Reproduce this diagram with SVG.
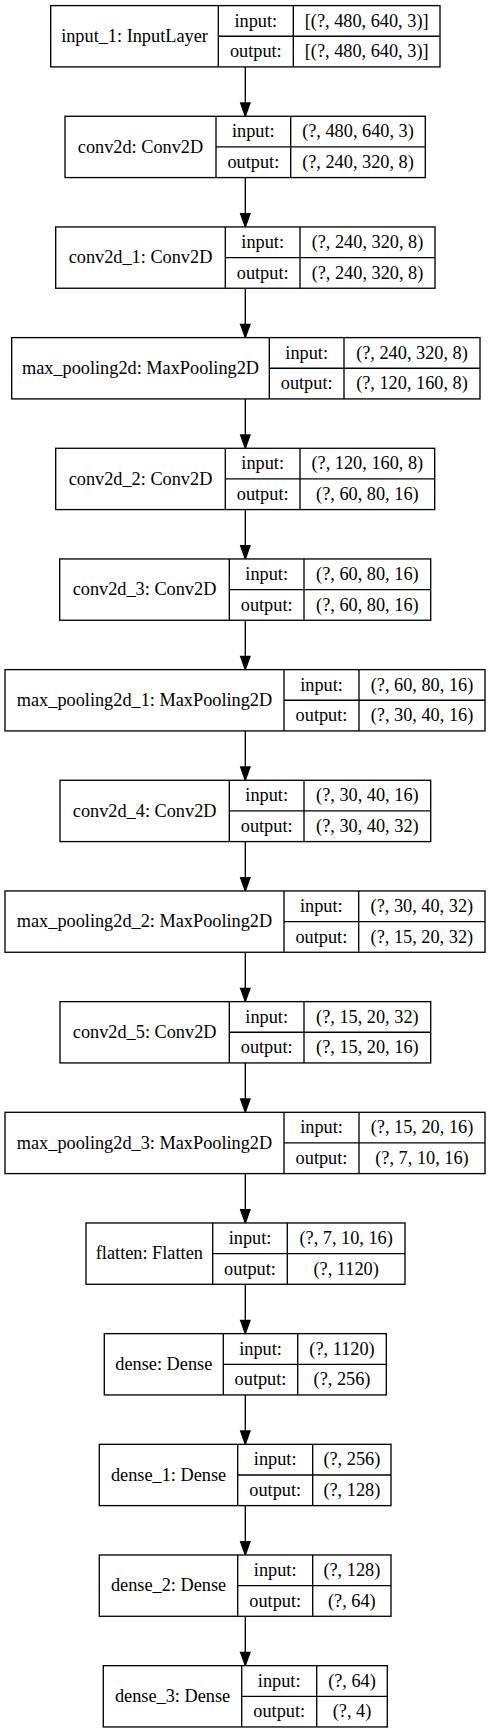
<svg xmlns="http://www.w3.org/2000/svg" width="491" height="1733" viewBox="0 0 491 1733">
<style>
  .bx { fill: #ffffff; stroke: #000000; stroke-width: 1.33; }
  .dv { stroke: #000000; stroke-width: 1.33; fill: none; }
  text { font-family: "Liberation Serif", "Times New Roman", serif; font-size: 18.3px; fill: #000000; text-anchor: middle; }
  .edge { stroke: #000000; stroke-width: 1.33; fill: none; }
  .head { fill: #000000; stroke: #000000; stroke-width: 1.33; }
</style>
<rect x="0" y="0" width="491" height="1733" fill="#ffffff"/>

<g id="connectors">
  <line class="edge" x1="245.3" y1="66.9" x2="245.3" y2="103"/><polygon class="head" points="240.6,103 250,103 245.3,116.3"/>
  <line class="edge" x1="245.3" y1="177.6" x2="245.3" y2="213.6"/><polygon class="head" points="240.6,213.6 250,213.6 245.3,226.9"/>
  <line class="edge" x1="245.3" y1="288.2" x2="245.3" y2="324.3"/><polygon class="head" points="240.6,324.3 250,324.3 245.3,337.6"/>
  <line class="edge" x1="245.3" y1="398.9" x2="245.3" y2="435"/><polygon class="head" points="240.6,435 250,435 245.3,448.3"/>
  <line class="edge" x1="245.3" y1="509.6" x2="245.3" y2="545.6"/><polygon class="head" points="240.6,545.6 250,545.6 245.3,558.9"/>
  <line class="edge" x1="245.3" y1="620.3" x2="245.3" y2="656.3"/><polygon class="head" points="240.6,656.3 250,656.3 245.3,669.6"/>
  <line class="edge" x1="245.3" y1="730.9" x2="245.3" y2="767"/><polygon class="head" points="240.6,767 250,767 245.3,780.3"/>
  <line class="edge" x1="245.3" y1="841.6" x2="245.3" y2="877.7"/><polygon class="head" points="240.6,877.7 250,877.7 245.3,891"/>
  <line class="edge" x1="245.3" y1="952.3" x2="245.3" y2="988.3"/><polygon class="head" points="240.6,988.3 250,988.3 245.3,1001.6"/>
  <line class="edge" x1="245.3" y1="1062.9" x2="245.3" y2="1099"/><polygon class="head" points="240.6,1099 250,1099 245.3,1112.3"/>
  <line class="edge" x1="245.3" y1="1173.6" x2="245.3" y2="1209.7"/><polygon class="head" points="240.6,1209.7 250,1209.7 245.3,1223"/>
  <line class="edge" x1="245.3" y1="1284.3" x2="245.3" y2="1320.3"/><polygon class="head" points="240.6,1320.3 250,1320.3 245.3,1333.6"/>
  <line class="edge" x1="245.3" y1="1394.9" x2="245.3" y2="1431"/><polygon class="head" points="240.6,1431 250,1431 245.3,1444.3"/>
  <line class="edge" x1="245.3" y1="1505.6" x2="245.3" y2="1541.7"/><polygon class="head" points="240.6,1541.7 250,1541.7 245.3,1555"/>
  <line class="edge" x1="245.3" y1="1616.3" x2="245.3" y2="1652.3"/><polygon class="head" points="240.6,1652.3 250,1652.3 245.3,1665.6"/>
</g>

<g id="input_1" transform="translate(0,5.6)">
  <rect class="bx" x="50.7" y="0" width="389.3" height="61.3"/>
  <line class="dv" x1="218.3" y1="0" x2="218.3" y2="61.3"/><line class="dv" x1="293.3" y1="0" x2="293.3" y2="61.3"/><line class="dv" x1="218.3" y1="30.65" x2="440" y2="30.65"/>
  <text x="134.5" y="36.4">input_1: InputLayer</text>
  <text x="255.8" y="21">input:</text><text x="255.8" y="51.7">output:</text>
  <text x="366.65" y="21">[(?, 480, 640, 3)]</text><text x="366.65" y="51.7">[(?, 480, 640, 3)]</text>
</g>

<g id="conv2d" transform="translate(0,116.27)">
  <rect class="bx" x="65" y="0" width="360.3" height="61.3"/>
  <line class="dv" x1="216" y1="0" x2="216" y2="61.3"/><line class="dv" x1="290.7" y1="0" x2="290.7" y2="61.3"/><line class="dv" x1="216" y1="30.65" x2="425.3" y2="30.65"/>
  <text x="140.5" y="36.4">conv2d: Conv2D</text>
  <text x="253.35" y="21">input:</text><text x="253.35" y="51.7">output:</text>
  <text x="358" y="21">(?, 480, 640, 3)</text><text x="358" y="51.7">(?, 240, 320, 8)</text>
</g>

<g id="conv2d_1" transform="translate(0,226.94)">
  <rect class="bx" x="55.7" y="0" width="379.3" height="61.3"/>
  <line class="dv" x1="225.3" y1="0" x2="225.3" y2="61.3"/><line class="dv" x1="300" y1="0" x2="300" y2="61.3"/><line class="dv" x1="225.3" y1="30.65" x2="435" y2="30.65"/>
  <text x="140.5" y="36.4">conv2d_1: Conv2D</text>
  <text x="262.65" y="21">input:</text><text x="262.65" y="51.7">output:</text>
  <text x="367.5" y="21">(?, 240, 320, 8)</text><text x="367.5" y="51.7">(?, 240, 320, 8)</text>
</g>

<g id="max_pooling2d" transform="translate(0,337.61)">
  <rect class="bx" x="11.7" y="0" width="468.3" height="61.3"/>
  <line class="dv" x1="269.3" y1="0" x2="269.3" y2="61.3"/><line class="dv" x1="344" y1="0" x2="344" y2="61.3"/><line class="dv" x1="269.3" y1="30.65" x2="480" y2="30.65"/>
  <text x="140.5" y="36.4">max_pooling2d: MaxPooling2D</text>
  <text x="306.65" y="21">input:</text><text x="306.65" y="51.7">output:</text>
  <text x="412" y="21">(?, 240, 320, 8)</text><text x="412" y="51.7">(?, 120, 160, 8)</text>
</g>

<g id="conv2d_2" transform="translate(0,448.28)">
  <rect class="bx" x="55.7" y="0" width="379" height="61.3"/>
  <line class="dv" x1="225.3" y1="0" x2="225.3" y2="61.3"/><line class="dv" x1="300" y1="0" x2="300" y2="61.3"/><line class="dv" x1="225.3" y1="30.65" x2="434.7" y2="30.65"/>
  <text x="140.5" y="36.4">conv2d_2: Conv2D</text>
  <text x="262.65" y="21">input:</text><text x="262.65" y="51.7">output:</text>
  <text x="367.35" y="21">(?, 120, 160, 8)</text><text x="367.35" y="51.7">(?, 60, 80, 16)</text>
</g>

<g id="conv2d_3" transform="translate(0,558.95)">
  <rect class="bx" x="59.7" y="0" width="371" height="61.3"/>
  <line class="dv" x1="229.3" y1="0" x2="229.3" y2="61.3"/><line class="dv" x1="304" y1="0" x2="304" y2="61.3"/><line class="dv" x1="229.3" y1="30.65" x2="430.7" y2="30.65"/>
  <text x="144.5" y="36.4">conv2d_3: Conv2D</text>
  <text x="266.65" y="21">input:</text><text x="266.65" y="51.7">output:</text>
  <text x="367.35" y="21">(?, 60, 80, 16)</text><text x="367.35" y="51.7">(?, 60, 80, 16)</text>
</g>

<g id="max_pooling2d_1" transform="translate(0,669.62)">
  <rect class="bx" x="5" y="0" width="480" height="61.3"/>
  <line class="dv" x1="284" y1="0" x2="284" y2="61.3"/><line class="dv" x1="359" y1="0" x2="359" y2="61.3"/><line class="dv" x1="284" y1="30.65" x2="485" y2="30.65"/>
  <text x="144.5" y="36.4">max_pooling2d_1: MaxPooling2D</text>
  <text x="321.5" y="21">input:</text><text x="321.5" y="51.7">output:</text>
  <text x="422" y="21">(?, 60, 80, 16)</text><text x="422" y="51.7">(?, 30, 40, 16)</text>
</g>

<g id="conv2d_4" transform="translate(0,780.29)">
  <rect class="bx" x="60" y="0" width="370.7" height="61.3"/>
  <line class="dv" x1="229.3" y1="0" x2="229.3" y2="61.3"/><line class="dv" x1="304" y1="0" x2="304" y2="61.3"/><line class="dv" x1="229.3" y1="30.65" x2="430.7" y2="30.65"/>
  <text x="144.65" y="36.4">conv2d_4: Conv2D</text>
  <text x="266.65" y="21">input:</text><text x="266.65" y="51.7">output:</text>
  <text x="367.35" y="21">(?, 30, 40, 16)</text><text x="367.35" y="51.7">(?, 30, 40, 32)</text>
</g>

<g id="max_pooling2d_2" transform="translate(0,890.96)">
  <rect class="bx" x="5" y="0" width="480" height="61.3"/>
  <line class="dv" x1="284" y1="0" x2="284" y2="61.3"/><line class="dv" x1="358.7" y1="0" x2="358.7" y2="61.3"/><line class="dv" x1="284" y1="30.65" x2="485" y2="30.65"/>
  <text x="144.5" y="36.4">max_pooling2d_2: MaxPooling2D</text>
  <text x="321.35" y="21">input:</text><text x="321.35" y="51.7">output:</text>
  <text x="421.85" y="21">(?, 30, 40, 32)</text><text x="421.85" y="51.7">(?, 15, 20, 32)</text>
</g>

<g id="conv2d_5" transform="translate(0,1001.63)">
  <rect class="bx" x="60" y="0" width="370.7" height="61.3"/>
  <line class="dv" x1="229.3" y1="0" x2="229.3" y2="61.3"/><line class="dv" x1="304" y1="0" x2="304" y2="61.3"/><line class="dv" x1="229.3" y1="30.65" x2="430.7" y2="30.65"/>
  <text x="144.65" y="36.4">conv2d_5: Conv2D</text>
  <text x="266.65" y="21">input:</text><text x="266.65" y="51.7">output:</text>
  <text x="367.35" y="21">(?, 15, 20, 32)</text><text x="367.35" y="51.7">(?, 15, 20, 16)</text>
</g>

<g id="max_pooling2d_3" transform="translate(0,1112.3)">
  <rect class="bx" x="5" y="0" width="480" height="61.3"/>
  <line class="dv" x1="284" y1="0" x2="284" y2="61.3"/><line class="dv" x1="359" y1="0" x2="359" y2="61.3"/><line class="dv" x1="284" y1="30.65" x2="485" y2="30.65"/>
  <text x="144.5" y="36.4">max_pooling2d_3: MaxPooling2D</text>
  <text x="321.5" y="21">input:</text><text x="321.5" y="51.7">output:</text>
  <text x="422" y="21">(?, 15, 20, 16)</text><text x="422" y="51.7">(?, 7, 10, 16)</text>
</g>

<g id="flatten" transform="translate(0,1222.97)">
  <rect class="bx" x="86" y="0" width="319" height="61.3"/>
  <line class="dv" x1="212.7" y1="0" x2="212.7" y2="61.3"/><line class="dv" x1="287.3" y1="0" x2="287.3" y2="61.3"/><line class="dv" x1="212.7" y1="30.65" x2="405" y2="30.65"/>
  <text x="149.35" y="36.4">flatten: Flatten</text>
  <text x="250" y="21">input:</text><text x="250" y="51.7">output:</text>
  <text x="346.15" y="21">(?, 7, 10, 16)</text><text x="346.15" y="51.7">(?, 1120)</text>
</g>

<g id="dense" transform="translate(0,1333.64)">
  <rect class="bx" x="104.3" y="0" width="282" height="61.3"/>
  <line class="dv" x1="223.3" y1="0" x2="223.3" y2="61.3"/><line class="dv" x1="297.7" y1="0" x2="297.7" y2="61.3"/><line class="dv" x1="223.3" y1="30.65" x2="386.3" y2="30.65"/>
  <text x="163.8" y="36.4">dense: Dense</text>
  <text x="260.5" y="21">input:</text><text x="260.5" y="51.7">output:</text>
  <text x="342" y="21">(?, 1120)</text><text x="342" y="51.7">(?, 256)</text>
</g>

<g id="dense_1" transform="translate(0,1444.31)">
  <rect class="bx" x="99.3" y="0" width="291.7" height="61.3"/>
  <line class="dv" x1="237.7" y1="0" x2="237.7" y2="61.3"/><line class="dv" x1="312.7" y1="0" x2="312.7" y2="61.3"/><line class="dv" x1="237.7" y1="30.65" x2="391" y2="30.65"/>
  <text x="168.5" y="36.4">dense_1: Dense</text>
  <text x="275.2" y="21">input:</text><text x="275.2" y="51.7">output:</text>
  <text x="351.85" y="21">(?, 256)</text><text x="351.85" y="51.7">(?, 128)</text>
</g>

<g id="dense_2" transform="translate(0,1554.98)">
  <rect class="bx" x="99.3" y="0" width="291.7" height="61.3"/>
  <line class="dv" x1="237.7" y1="0" x2="237.7" y2="61.3"/><line class="dv" x1="312.7" y1="0" x2="312.7" y2="61.3"/><line class="dv" x1="237.7" y1="30.65" x2="391" y2="30.65"/>
  <text x="168.5" y="36.4">dense_2: Dense</text>
  <text x="275.2" y="21">input:</text><text x="275.2" y="51.7">output:</text>
  <text x="351.85" y="21">(?, 128)</text><text x="351.85" y="51.7">(?, 64)</text>
</g>

<g id="dense_3" transform="translate(0,1665.65)">
  <rect class="bx" x="103.3" y="0" width="284" height="61.3"/>
  <line class="dv" x1="241.7" y1="0" x2="241.7" y2="61.3"/><line class="dv" x1="316.7" y1="0" x2="316.7" y2="61.3"/><line class="dv" x1="241.7" y1="30.65" x2="387.3" y2="30.65"/>
  <text x="172.5" y="36.4">dense_3: Dense</text>
  <text x="279.2" y="21">input:</text><text x="279.2" y="51.7">output:</text>
  <text x="352" y="21">(?, 64)</text><text x="352" y="51.7">(?, 4)</text>
</g>
</svg>
